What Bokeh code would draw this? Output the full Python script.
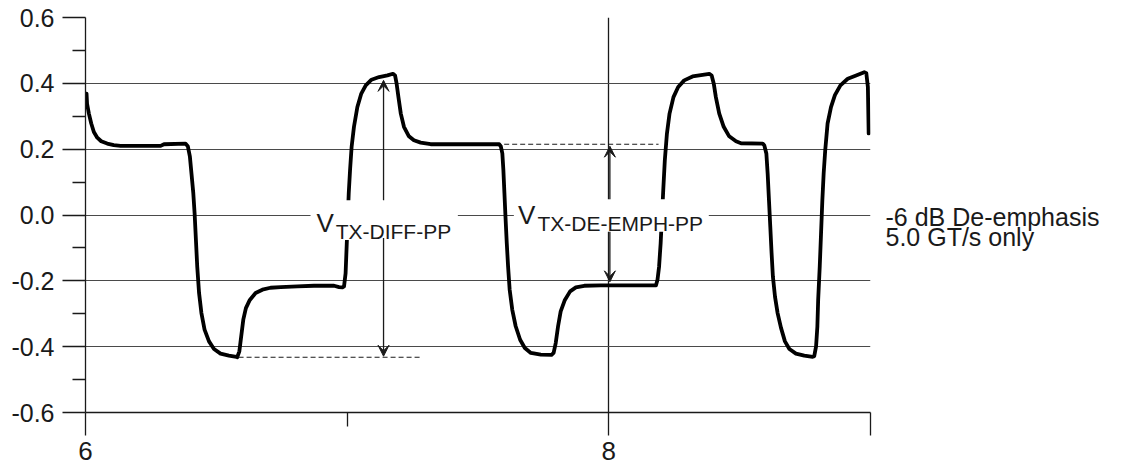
from bokeh.plotting import figure
from bokeh.layouts import row
from bokeh.models import (Range1d, FixedTicker, PrintfTickFormatter, Label,
                          Arrow, VeeHead, BoxAnnotation, ColumnDataSource)
from bokeh.core.properties import value
from bokeh.embed import file_html
from bokeh.resources import INLINE

# ---- data ----
time_ns = [6.004, 6.006, 6.013, 6.022, 6.032, 6.045, 6.060, 6.083, 6.108, 6.134,
           6.287, 6.300, 6.382, 6.391, 6.399, 6.405, 6.412, 6.417, 6.422, 6.427,
           6.434, 6.443, 6.455, 6.472, 6.491, 6.516, 6.548, 6.577, 6.580, 6.588,
           6.595, 6.603, 6.613, 6.628, 6.650, 6.676, 6.707, 6.746, 6.810, 6.873,
           6.950, 6.969, 6.982, 6.988, 6.994, 6.998, 7.002, 7.006, 7.011, 7.017,
           7.026, 7.039, 7.054, 7.071, 7.093, 7.122, 7.154, 7.175, 7.183, 7.189,
           7.196, 7.205, 7.217, 7.236, 7.255, 7.281, 7.319, 7.581, 7.587, 7.593,
           7.597, 7.601, 7.605, 7.610, 7.615, 7.621, 7.631, 7.644, 7.661, 7.679,
           7.702, 7.740, 7.781, 7.789, 7.797, 7.806, 7.816, 7.832, 7.852, 7.874,
           7.906, 7.969, 8.097, 8.180, 8.186, 8.192, 8.198, 8.203, 8.208, 8.214,
           8.222, 8.232, 8.247, 8.265, 8.288, 8.320, 8.352, 8.384, 8.393, 8.401,
           8.409, 8.422, 8.439, 8.460, 8.486, 8.505, 8.588, 8.594, 8.602, 8.607,
           8.612, 8.617, 8.622, 8.627, 8.635, 8.645, 8.658, 8.673, 8.690, 8.715,
           8.747, 8.779, 8.785, 8.792, 8.797, 8.800, 8.806, 8.811, 8.816, 8.821,
           8.827, 8.836, 8.849, 8.864, 8.885, 8.913, 8.945, 8.976, 8.984, 8.990,
           8.993]
volts = [0.369, 0.338, 0.308, 0.278, 0.252, 0.235, 0.224, 0.217, 0.212, 0.210,
         0.210, 0.215, 0.217, 0.209, 0.177, 0.126, 0.066, 0.005, -0.076, -0.157,
         -0.237, -0.298, -0.348, -0.384, -0.407, -0.421, -0.427, -0.431, -0.432, -0.414,
         -0.369, -0.318, -0.283, -0.258, -0.237, -0.227, -0.221, -0.219, -0.217, -0.215,
         -0.215, -0.219, -0.220, -0.217, -0.177, -0.096, -0.015, 0.066, 0.136, 0.207,
         0.268, 0.328, 0.369, 0.394, 0.411, 0.419, 0.424, 0.429, 0.424, 0.399,
         0.358, 0.308, 0.268, 0.239, 0.227, 0.220, 0.215, 0.215, 0.209, 0.187,
         0.136, 0.066, -0.005, -0.086, -0.157, -0.227, -0.288, -0.338, -0.379, -0.404,
         -0.419, -0.424, -0.425, -0.419, -0.389, -0.338, -0.293, -0.258, -0.232, -0.220,
         -0.215, -0.214, -0.214, -0.214, -0.197, -0.157, -0.086, -0.005, 0.076, 0.167,
         0.247, 0.308, 0.358, 0.389, 0.409, 0.421, 0.425, 0.429, 0.424, 0.399,
         0.358, 0.308, 0.268, 0.239, 0.224, 0.218, 0.217, 0.212, 0.187, 0.126,
         0.045, -0.035, -0.116, -0.187, -0.248, -0.298, -0.343, -0.384, -0.407, -0.421,
         -0.427, -0.431, -0.429, -0.399, -0.338, -0.258, -0.157, -0.056, 0.045, 0.126,
         0.197, 0.278, 0.328, 0.364, 0.394, 0.414, 0.424, 0.434, 0.431, 0.389,
         0.248]

x_major_ticks = [6, 8, 9]
x_minor_ticks = [7]
x_tick_labels = {6: "6", 8: "8", 9: ""}
y_major_ticks = [-0.6, -0.4, -0.2, 0.0, 0.2, 0.4, 0.6]
y_minor_ticks = [-0.5, -0.3, -0.1, 0.1, 0.3, 0.5]

diff_level_top = 0.409
diff_level_bottom = -0.429
diff_dash_level = -0.432
deemph_level_top = 0.209
deemph_level_bottom = -0.203
deemph_dash_level = 0.215

note_lines = ["-6 dB De-emphasis", "5.0 GT/s only"]
note_y = [-0.005, -0.066]

FONT = "Liberation Sans"
INK = "#1a1a1a"
GRID = "#4a4a4a"
H = 468
TOP = 17
BOTTOM = 56

p = figure(width=876, height=H, output_backend="svg", toolbar_location=None,
           x_range=Range1d(6, 9), y_range=Range1d(-0.6, 0.6),
           min_border_left=85, min_border_right=6, min_border_top=TOP,
           min_border_bottom=BOTTOM)
p.outline_line_color = None

# axes
p.xaxis.ticker = FixedTicker(ticks=x_major_ticks, minor_ticks=x_minor_ticks)
p.xaxis.major_label_overrides = x_tick_labels
p.yaxis.ticker = FixedTicker(ticks=y_major_ticks, minor_ticks=y_minor_ticks)
p.yaxis.formatter = PrintfTickFormatter(format="%.1f")
for ax in (p.xaxis[0], p.yaxis[0]):
    ax.axis_line_color = INK
    ax.axis_line_width = 1.3
    ax.major_tick_line_color = INK
    ax.minor_tick_line_color = INK
    ax.major_tick_line_width = 1.3
    ax.minor_tick_line_width = 1.3
    ax.major_tick_in = 0
    ax.minor_tick_in = 0
    ax.major_tick_out = 23
    ax.major_label_text_font = FONT
    ax.major_label_text_color = INK
p.xaxis.minor_tick_out = 14
p.yaxis.minor_tick_out = 13
p.xaxis.major_label_text_font_size = "26px"
p.yaxis.major_label_text_font_size = "25px"
p.xaxis.major_label_standoff = 6
p.yaxis.major_label_standoff = 8

# grid
p.xgrid.ticker = FixedTicker(ticks=[8, 9])
p.ygrid.ticker = FixedTicker(ticks=y_major_ticks)
p.xgrid.grid_line_color = INK
p.ygrid.grid_line_color = GRID
p.xgrid.grid_line_width = 1.3
p.ygrid.grid_line_width = 1.2

# waveform
src = ColumnDataSource(dict(t=time_ns, v=volts))
p.line("t", "v", source=src, line_color="black", line_width=3.8,
       line_join="round", line_cap="round")

# dashed reference lines
p.segment(x0=[6.585], y0=[diff_dash_level], x1=[7.281], y1=[diff_dash_level],
          line_color=INK, line_width=1.1, line_dash="5 3")
p.segment(x0=[7.600], y0=[deemph_dash_level], x1=[8.190], y1=[deemph_dash_level],
          line_color=INK, line_width=1.1, line_dash="5 3")

# white boxes behind labels
p.add_layout(BoxAnnotation(left=6.860, right=7.423, top=0.045, bottom=-0.076,
                           fill_color="white", fill_alpha=1.0, line_color=None))
p.add_layout(BoxAnnotation(left=7.637, right=8.382, top=0.048, bottom=-0.051,
                           fill_color="white", fill_alpha=1.0, line_color=None))

# arrows
def arrow(x, y0, y1):
    p.add_layout(Arrow(end=VeeHead(size=11, fill_color=INK, line_color=INK, line_width=1),
                       x_start=x, y_start=y0, x_end=x, y_end=y1,
                       line_color=INK, line_width=1.3))

arrow(7.139, 0.045, diff_level_top)
arrow(7.139, -0.070, diff_level_bottom)
arrow(8.004, 0.048, deemph_level_top)
arrow(8.004, -0.051, deemph_level_bottom)

# labels
def lab(x, y, text, size):
    p.add_layout(Label(x=x, y=y, text=text, text_font=FONT, text_font_size=size,
                       text_color=INK, text_baseline="alphabetic", text_align="left"))

lab(6.883, -0.024, "V", "26px")
lab(6.956, -0.050, "TX-DIFF-PP", "21px")
lab(7.653, 0.000, "V", "26px")
lab(7.727, -0.027, "TX-DE-EMPH-PP", "21px")

# side note panel (same vertical scale)
p2 = figure(width=240, height=H, output_backend="svg", toolbar_location=None,
            x_range=Range1d(0, 240), y_range=Range1d(-0.6, 0.6),
            x_axis_location=None, y_axis_location=None,
            min_border_left=0, min_border_right=0, min_border_top=TOP,
            min_border_bottom=BOTTOM)
p2.outline_line_color = None
p2.grid.visible = False
p2.text(x=[9, 9], y=note_y, text=note_lines, text_font=value(FONT),
        text_font_size="25px", text_color=INK, text_baseline="alphabetic",
        text_align="left")

layout = row(p, p2, spacing=0)
open("out.html", "w").write(file_html(layout, INLINE))
